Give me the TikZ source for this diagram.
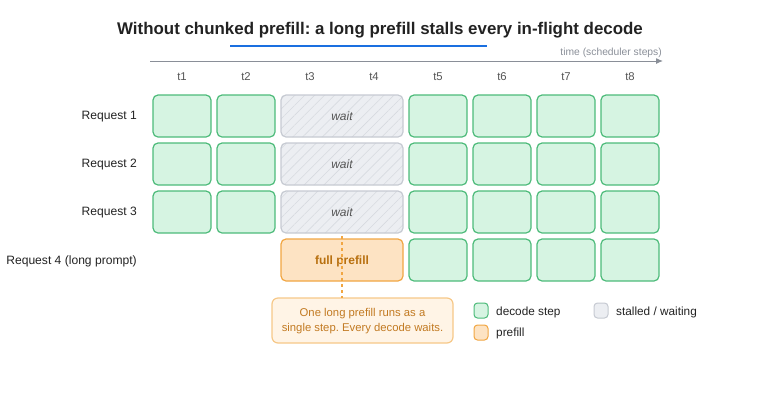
\documentclass[tikz,border=0pt]{standalone}
\usepackage{fontspec}
\setmainfont{Liberation Sans}
\frenchspacing
\usetikzlibrary{patterns.meta,arrows.meta}
\definecolor{gfill}{HTML}{D6F4E2}
\definecolor{gline}{HTML}{4DBB7A}
\definecolor{wfill}{HTML}{ECEEF2}
\definecolor{wline}{HTML}{C6CAD2}
\definecolor{whatch}{HTML}{D7DAE0}
\definecolor{ofill}{HTML}{FDE3C3}
\definecolor{oline}{HTML}{F1A642}
\definecolor{otext}{HTML}{B8700F}
\definecolor{cfill}{HTML}{FFF4E6}
\definecolor{cline}{HTML}{F6C888}
\definecolor{ctext}{HTML}{C27A22}
\definecolor{titlec}{HTML}{222222}
\definecolor{blueul}{HTML}{1A6FE0}
\definecolor{axisc}{HTML}{8A8F98}
\definecolor{labc}{HTML}{555555}
\tikzset{
  x=1pt,y=-1pt,
  dec/.style={draw=gline,fill=gfill,line width=1.2pt,rounded corners=5pt},
  waitbox/.style={draw=wline,line width=1.2pt,rounded corners=5pt,preaction={fill=wfill},
     pattern={Lines[angle=45,distance=7pt,line width=0.6pt]},pattern color=whatch},
  pre/.style={draw=oline,fill=ofill,line width=1.2pt,rounded corners=5pt},
  rowlab/.style={anchor=base east,inner sep=0pt,font=\fontsize{12.1}{14}\selectfont,text=titlec},
  collab/.style={anchor=base,inner sep=0pt,font=\fontsize{11.3}{13}\selectfont,text=labc},
  waittxt/.style={anchor=base,inner sep=0pt,font=\itshape\fontsize{12}{14}\selectfont,text=labc},
  legtxt/.style={anchor=base west,inner sep=0pt,font=\fontsize{11.8}{14}\selectfont,text=titlec},
}
\begin{document}
\begin{tikzpicture}
\useasboundingbox (0,0) rectangle (760,400);
% title
\node[anchor=base,inner sep=0pt,font=\bfseries\fontsize{16.9}{20}\selectfont,text=titlec] (title) at (380,34) {Without chunked prefill: a long prefill stalls every in-flight decode};
\draw[blueul,line width=2pt] (230,46) -- (487,46);
% axis
\coordinate (ax0) at (150,61);
\coordinate (ax1) at (663,61);
\draw[axisc,line width=1pt,-{Latex[length=7pt,width=6pt]}] (ax0) -- (ax1);
\node[anchor=base east,inner sep=0pt,font=\fontsize{10.3}{12}\selectfont,text=axisc] (tlab) at (662,55.5) {time (scheduler steps)};
\foreach \i in {1,...,8} {
  \node[collab] (t\i) at ({182+64*(\i-1)},80) {t\i};
}
% row labels
\node[rowlab] (r1) at (137,119.5) {Request 1};
\node[rowlab] (r2) at (137,167.5) {Request 2};
\node[rowlab] (r3) at (137,215.5) {Request 3};
\node[rowlab] (r4) at (137,264) {Request 4 (long prompt)};
% rows 1-3
\foreach \r in {0,1,2} {
  \pgfmathsetmacro{\ya}{95+48*\r}
  \pgfmathsetmacro{\yb}{137+48*\r}
  \draw[dec] (153,\ya) rectangle (211,\yb);
  \draw[dec] (217,\ya) rectangle (275,\yb);
  \draw[waitbox] (281,\ya) rectangle (403,\yb);
  \node[waittxt] at (342,{(\ya+\yb)/2+4}) {wait};
  \foreach \c in {4,5,6,7} {
    \draw[dec] ({153+64*\c},\ya) rectangle ({211+64*\c},\yb);
  }
}
% row 4
\draw[pre] (281,239) rectangle (403,281);
\foreach \c in {4,5,6,7} {
  \draw[dec] ({153+64*\c},239) rectangle ({211+64*\c},281);
}
\node[anchor=base,inner sep=0pt,font=\bfseries\fontsize{12}{14}\selectfont,text=otext] (fp) at (342,264.5) {full prefill};
% callout
\draw[draw=cline,fill=cfill,line width=1.2pt,rounded corners=6pt] (272,298) rectangle (453,343);
\node[anchor=base,inner sep=0pt,font=\fontsize{11.3}{15}\selectfont,text=ctext] (call1) at (362.5,316) {One long prefill runs as a};
\node[anchor=base,inner sep=0pt,font=\fontsize{11.3}{15}\selectfont,text=ctext] (call2) at (362.5,331) {single step. Every decode waits.};
\coordinate (call) at (342,298);
\coordinate (dtop) at (342,236);
\draw[oline,line width=1.5pt,dash pattern=on 3pt off 3pt] (dtop) -- (call);
% legend
\draw[dec,line width=1pt,rounded corners=3.5pt] (474,303) rectangle (488,318);
\node[legtxt] (l1) at (496,315.5) {decode step};
\draw[draw=wline,fill=wfill,line width=1pt,rounded corners=3.5pt] (594,303) rectangle (608,318);
\node[legtxt] (l2) at (616,315.5) {stalled / waiting};
\draw[pre,line width=1pt,rounded corners=3.5pt] (474,325) rectangle (488,340);
\node[legtxt] (l3) at (496,336.5) {prefill};
\end{tikzpicture}
\end{document}
